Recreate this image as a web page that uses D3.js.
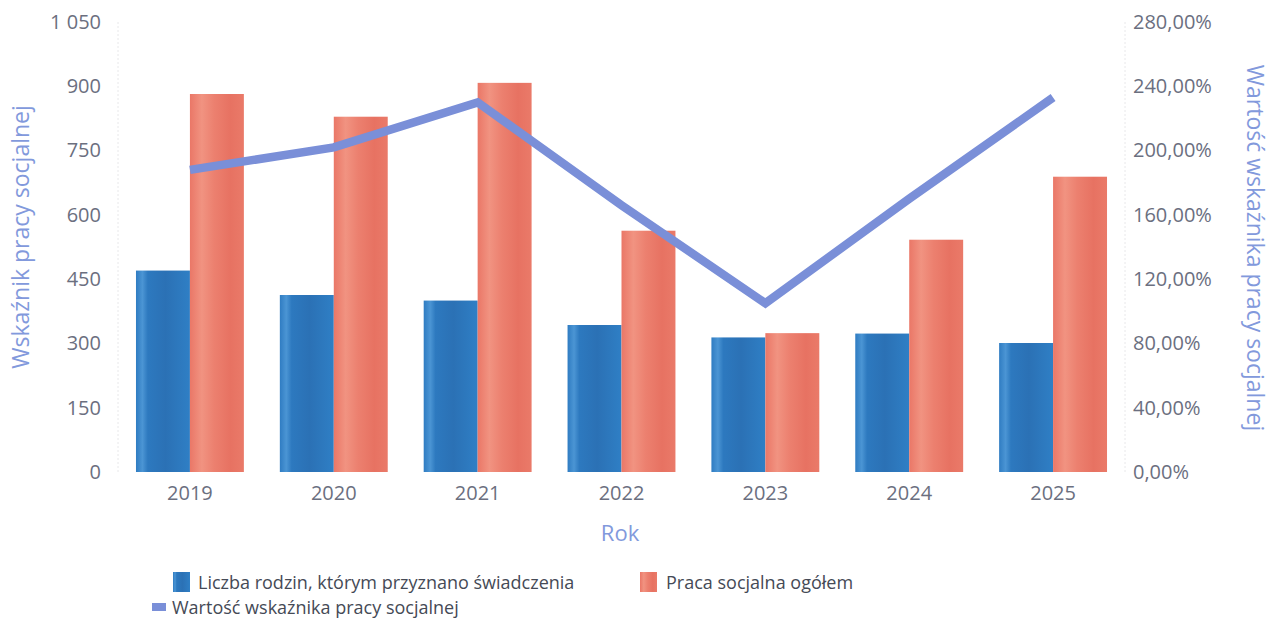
<!DOCTYPE html>
<html>
<head>
<meta charset="utf-8">
<script src="https://cdn.jsdelivr.net/npm/d3@7"></script>
<style>
  html, body { margin: 0; padding: 0; background: #ffffff; }
  svg { display: block; font-family: "Open Sans", "Noto Sans", sans-serif; }
</style>
</head>
<body>
<svg id="chart" width="1278" height="621"></svg>
<script>
// ---- data ----
const years = ["2019", "2020", "2021", "2022", "2023", "2024", "2025"];
const families = [470, 413, 400, 343, 314, 323, 301];      // Liczba rodzin, którym przyznano świadczenia
const socialWork = [882, 829, 908, 563, 324, 542, 689];    // Praca socjalna ogółem
const indicator = [1.88, 2.02, 2.30, 1.66, 1.05, 1.70, 2.33]; // Wartość wskaźnika pracy socjalnej
const leftTicks = [0, 150, 300, 450, 600, 750, 900, 1050];
const rightTicks = [0, 0.4, 0.8, 1.2, 1.6, 2.0, 2.4, 2.8];
const seriesNames = ["Liczba rodzin, którym przyznano świadczenia", "Praca socjalna ogółem", "Wartość wskaźnika pracy socjalnej"];
const leftTitle = "Wskaźnik pracy socjalnej";
const rightTitle = "Wartość wskaźnika pracy socjalnej";
const xTitle = "Rok";

// ---- layout ----
const svg = d3.select("#chart");
const plotLeft = 118, plotRight = 1125, plotTop = 22, plotBottom = 472;
const tickColor = "#6b6f7f", titleColor = "#8299dc";

const x = d3.scaleBand().domain(years).range([plotLeft, plotRight]).paddingInner(0.25).paddingOuter(0.125);
const yL = d3.scaleLinear().domain([0, 1050]).range([plotBottom, plotTop]);
const yR = d3.scaleLinear().domain([0, 2.8]).range([plotBottom, plotTop]);

// gradients
const defs = svg.append("defs");
function grad(id, stops) {
  const g = defs.append("linearGradient").attr("id", id).attr("x1", "0%").attr("x2", "100%").attr("y1", "0%").attr("y2", "0%");
  stops.forEach(s => g.append("stop").attr("offset", s[0]).attr("stop-color", s[1]));
}
grad("gBlue", [["0%", "#2f7cc2"], ["12%", "#4b95d4"], ["22%", "#2d79bf"], ["55%", "#2b71b5"], ["100%", "#2f7fc5"]]);
grad("gRed", [["0%", "#ea7767"], ["22%", "#f19381"], ["45%", "#ec806f"], ["75%", "#e77262"], ["100%", "#ea7a69"]]);

// faint axis lines
svg.append("line").attr("x1", plotLeft).attr("x2", plotLeft).attr("y1", plotTop).attr("y2", plotBottom)
  .attr("stroke", "#e8e8ea").attr("stroke-width", 1).attr("stroke-dasharray", "2,2");
svg.append("line").attr("x1", plotRight).attr("x2", plotRight).attr("y1", plotTop).attr("y2", plotBottom)
  .attr("stroke", "#e8e8ea").attr("stroke-width", 1).attr("stroke-dasharray", "2,2");

// axes
const fmtL = d => d3.format(",")(d).replace(/,/g, " ");
const fmtR = d => d3.format(".2f")(d * 100).replace(".", ",") + "%";

const axL = svg.append("g").attr("transform", `translate(${plotLeft - 17},0)`)
  .call(d3.axisLeft(yL).tickValues(leftTicks).tickFormat(fmtL).tickSize(0).tickPadding(0));
const axR = svg.append("g").attr("transform", `translate(${plotRight + 8},0)`)
  .call(d3.axisRight(yR).tickValues(rightTicks).tickFormat(fmtR).tickSize(0).tickPadding(0));
axR.selectAll("text").attr("text-anchor", "start");
const axX = svg.append("g").attr("transform", `translate(0,${plotBottom + 8})`)
  .call(d3.axisBottom(x).tickSize(0).tickPadding(6));
[axL, axR, axX].forEach(a => {
  a.select(".domain").remove();
  a.selectAll("text").attr("fill", tickColor).style("font-size", "20px").style("font-family", "'Open Sans', sans-serif");
});
axX.selectAll("text").attr("dy", "0.71em");

// bars
const half = x.bandwidth() / 2;
svg.append("g").selectAll("rect").data(years).join("rect")
  .attr("x", d => x(d)).attr("width", half)
  .attr("y", (d, i) => yL(families[i])).attr("height", (d, i) => yL(0) - yL(families[i]))
  .attr("fill", "url(#gBlue)");
svg.append("g").selectAll("rect").data(years).join("rect")
  .attr("x", d => x(d) + half).attr("width", half)
  .attr("y", (d, i) => yL(socialWork[i])).attr("height", (d, i) => yL(0) - yL(socialWork[i]))
  .attr("fill", "url(#gRed)");

// line
const line = d3.line().x((d, i) => x(years[i]) + half).y(d => yR(d));
svg.append("path").datum(indicator).attr("d", line)
  .attr("fill", "none").attr("stroke", "#7a8fd8").attr("stroke-width", 8.5)
  .attr("stroke-linejoin", "miter").attr("stroke-linecap", "butt");

// titles
svg.append("text").attr("transform", `translate(29,${237}) rotate(-90)`)
  .attr("text-anchor", "middle").attr("fill", titleColor).style("font-size", "23px").text(leftTitle);
svg.append("text").attr("transform", `translate(1247,${248}) rotate(90)`)
  .attr("text-anchor", "middle").attr("fill", titleColor).style("font-size", "23px").text(rightTitle);
svg.append("text").attr("x", 620).attr("y", 541)
  .attr("text-anchor", "middle").attr("fill", titleColor).style("font-size", "22px").text(xTitle);

// legend
const lg = svg.append("g").style("font-size", "18px").attr("fill", "#454a56");
lg.append("rect").attr("x", 173).attr("y", 572).attr("width", 17).attr("height", 20).attr("fill", "url(#gBlue)");
lg.append("text").attr("x", 198).attr("y", 589).text(seriesNames[0]);
lg.append("rect").attr("x", 640).attr("y", 572).attr("width", 17).attr("height", 20).attr("fill", "url(#gRed)");
lg.append("text").attr("x", 666).attr("y", 589).text(seriesNames[1]);
lg.append("rect").attr("x", 152).attr("y", 603).attr("width", 14).attr("height", 8).attr("fill", "#7a8fd8");
lg.append("text").attr("x", 172).attr("y", 614).text(seriesNames[2]);
</script>
</body>
</html>
